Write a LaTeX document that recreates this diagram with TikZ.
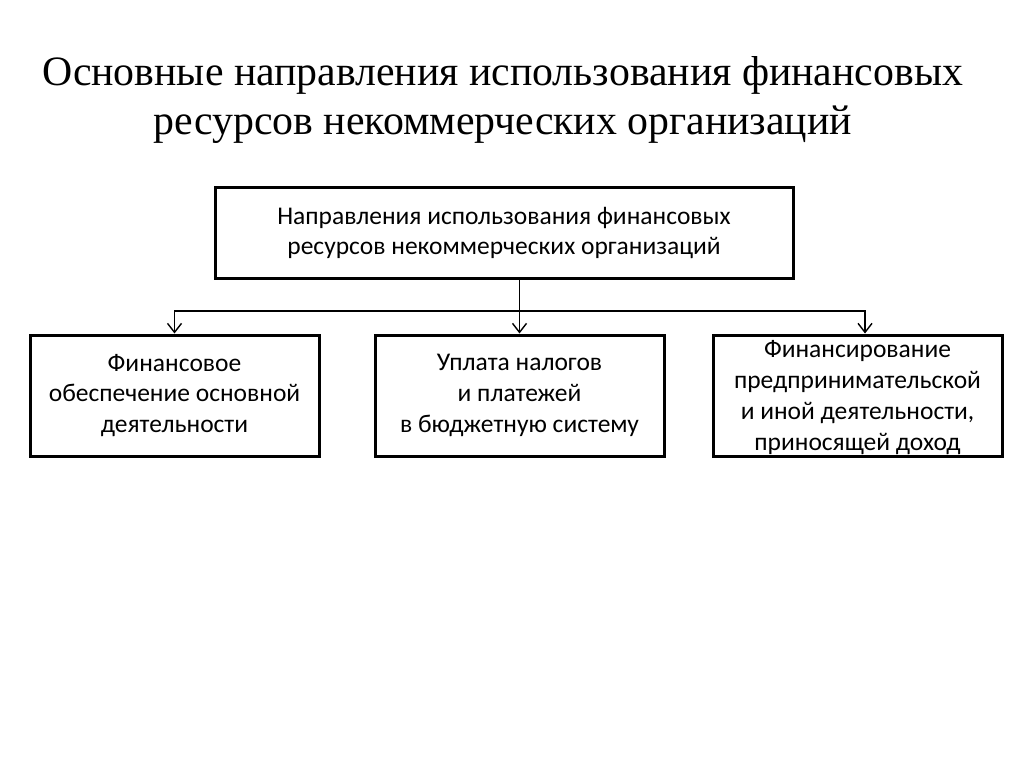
\documentclass[tikz,border=0pt]{standalone}
\usepackage{fontspec}
\setmainfont{Carlito}
\newfontfamily\titlefont{Liberation Serif}
\usetikzlibrary{arrows.meta}

\tikzset{
    box/.style={draw, line width=3pt, minimum width=289pt, minimum height=121pt,
                align=center, font=\fontsize{25.5}{30.8}\selectfont, inner sep=0pt},
    link/.style={line width=1.4pt, -{Straight Barb[length=9pt, width=14pt, line width=1.4pt]}}
}

\begin{document}
\begin{tikzpicture}[x=1pt, y=-1pt]

            % the frame
            \path[use as bounding box, fill=white] (0, 0) rectangle (1024, 767);

            % the title
            \node[align=center, font=\titlefont\fontsize{41.8}{49}\selectfont] (title) at (503, 100)
                {Основные направления использования финансовых\\ресурсов некоммерческих организаций};

            % the body
            \node[box, minimum width=578pt, minimum height=90pt] (top) at (504, 233)
                {Направления использования финансовых\\ресурсов некоммерческих организаций};
            \node[box] (left) at (174.5, 395.5)
                {Финансовое\\обеспечение основной\\деятельности};
            \node[box] (mid) at (519.5, 395.5)
                {Уплата налогов\\и платежей\\в бюджетную систему};
            \node[box, text depth=-7pt] (right) at (857.5, 395.5)
                {Финансирование\\предпринимательской\\и иной деятельности,\\приносящей доход};

            % the links
            \coordinate (split) at (520, 311);
            \coordinate (rtip) at (865, 311);
            \draw[link] (top.south -| mid.north) -- (mid.north);
            \draw[link] (split) -- (split -| left.north) -- (left.north);
            \draw[link] (split) -- (rtip) -- (rtip |- right.north);

        \end{tikzpicture}
\end{document}
